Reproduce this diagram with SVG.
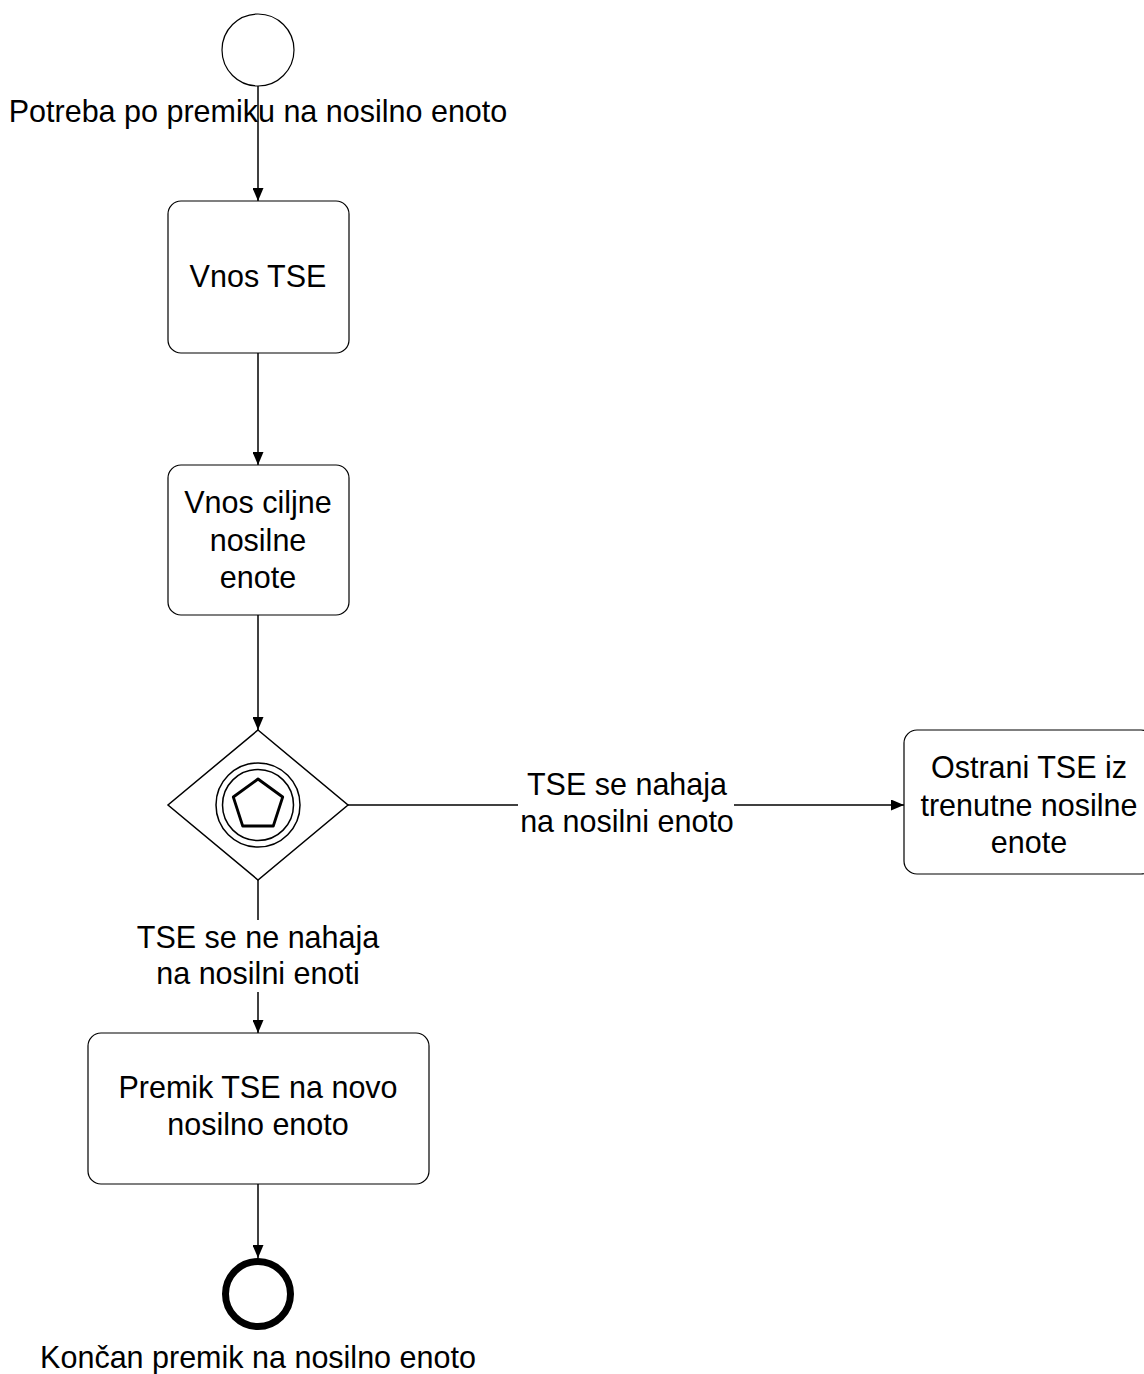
<svg xmlns="http://www.w3.org/2000/svg" width="1144" height="1374" viewBox="0 0 1144 1374">
<style>
text{font-family:"Liberation Sans",Arial,sans-serif;font-size:30.5px;fill:#000;text-anchor:middle}
.task{fill:#fff;stroke:#000;stroke-width:1.2}
.edge{fill:none;stroke:#000;stroke-width:1.5}
.lbl{fill:#fff;stroke:none}
</style>
<defs>
<marker id="arr" markerUnits="userSpaceOnUse" markerWidth="13" markerHeight="11" refX="13" refY="5.5" orient="auto">
<path d="M0,0 L13,5.5 L0,11 z" fill="#000"/>
</marker>
</defs>
<rect width="1144" height="1374" fill="#fff"/>
<g id="connectors">
<path class="edge" d="M258,86 V201" marker-end="url(#arr)"/>
<path class="edge" d="M258,353 V465" marker-end="url(#arr)"/>
<path class="edge" d="M258,615 V730" marker-end="url(#arr)"/>
<path class="edge" d="M348,805 H904" marker-end="url(#arr)"/>
<path class="edge" d="M258,880 V1033" marker-end="url(#arr)"/>
<path class="edge" d="M258,1184 V1258" marker-end="url(#arr)"/>
<g id="label-yes">
<rect class="lbl" x="518" y="768" width="216" height="72"/>
<text x="627" y="795">TSE se nahaja</text>
<text x="627" y="832">na nosilni enoto</text>
</g>
<g id="label-no">
<rect class="lbl" x="130" y="920" width="256" height="72"/>
<text x="258" y="948">TSE se ne nahaja</text>
<text x="258" y="984">na nosilni enoti</text>
</g>
</g>
<g id="start">
<circle cx="258" cy="50" r="36" fill="#fff" stroke="#000" stroke-width="1.2"/>
<text x="258" y="122">Potreba po premiku na nosilno enoto</text>
</g>
<g id="task-vnos-tse">
<rect class="task" x="168" y="201" width="181" height="152" rx="13"/>
<text x="258" y="287">Vnos TSE</text>
</g>
<g id="task-vnos-ciljne">
<rect class="task" x="168" y="465" width="181" height="150" rx="13"/>
<text x="258" y="513">Vnos ciljne</text>
<text x="258" y="551">nosilne</text>
<text x="258" y="588">enote</text>
</g>
<g id="gateway">
<polygon points="258,730 348,805 258,880 168,805" fill="#fff" stroke="#000" stroke-width="1.5"/>
<circle cx="258" cy="805" r="42" fill="none" stroke="#000" stroke-width="1.5"/>
<circle cx="258" cy="805" r="35.5" fill="none" stroke="#000" stroke-width="1.5"/>
<polygon points="258,779 282.7,797 273.3,826 242.7,826 233.3,797" fill="none" stroke="#000" stroke-width="2.8" stroke-linejoin="round"/>
</g>
<g id="task-ostrani">
<rect class="task" x="904" y="730" width="250" height="144" rx="13"/>
<text x="1029" y="778">Ostrani TSE iz</text>
<text x="1029" y="816">trenutne nosilne</text>
<text x="1029" y="853">enote</text>
</g>
<g id="task-premik">
<rect class="task" x="88" y="1033" width="341" height="151" rx="13"/>
<text x="258" y="1098">Premik TSE na novo</text>
<text x="258" y="1135">nosilno enoto</text>
</g>
<g id="end">
<circle cx="258" cy="1294" r="32.5" fill="#fff" stroke="#000" stroke-width="7"/>
<text x="258" y="1368">Končan premik na nosilno enoto</text>
</g>
</svg>
